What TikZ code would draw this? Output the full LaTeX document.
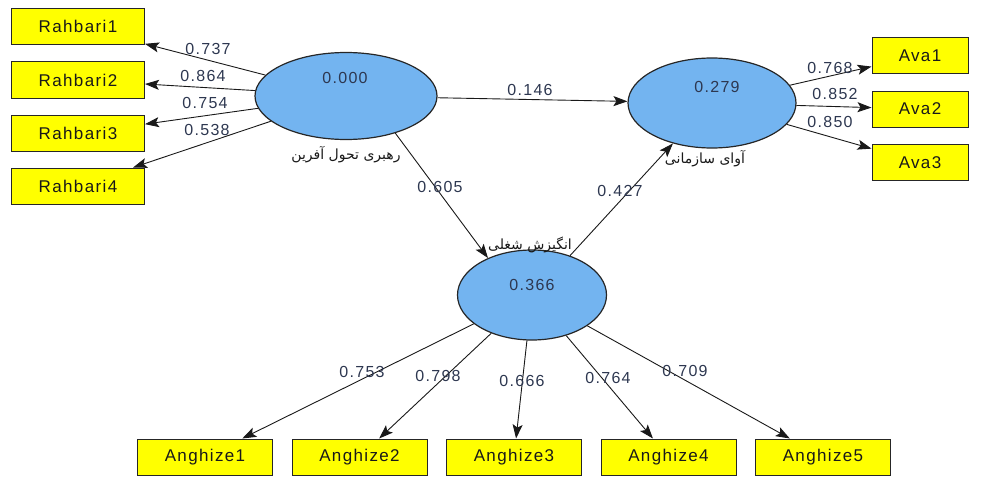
\documentclass[tikz,border=0pt]{standalone}
\usepackage{fontspec}
\setmainfont{Liberation Sans}[LetterSpace=8]
\newfontfamily\arabicfont[Script=Arabic]{DejaVu Sans}
\TeXXeTstate=1
\usetikzlibrary{shapes.geometric,arrows.meta}
\definecolor{boxyellow}{RGB}{255,255,0}
\definecolor{latblue}{RGB}{115,180,240}
\definecolor{numcol}{RGB}{45,55,80}
\begin{document}
\begin{tikzpicture}[x=1pt,y=-1pt,
 ind/.style={draw=black!85, fill=boxyellow, minimum height=36pt, inner sep=0pt, font=\fontsize{17}{20}\selectfont, line width=1pt, text=black!90},
 lat/.style={ellipse, draw=black!85, fill=latblue, inner sep=0pt, line width=1.2pt},
 num/.style={font=\fontsize{16}{19}\selectfont, text=numcol, inner sep=0pt},
 arr/.style={-{Stealth[length=14pt,width=10pt,inset=3pt]}, line width=0.9pt, draw=black!90},
 fa/.style={font=\arabicfont\fontsize{14}{16}\selectfont, inner sep=0pt, text=black!90}]
\useasboundingbox (0,0) rectangle (998,495);
% indicators
\node[ind, minimum width=133pt] (r1) at (78,26.5) {Rahbari1};
\node[ind, minimum width=133pt] (r2) at (78,80) {Rahbari2};
\node[ind, minimum width=133pt] (r3) at (78,133.5) {Rahbari3};
\node[ind, minimum width=133pt] (r4) at (78,186) {Rahbari4};
\node[ind, minimum width=96pt] (a1) at (920,55.5) {Ava1};
\node[ind, minimum width=96pt] (a2) at (920,109) {Ava2};
\node[ind, minimum width=96pt] (a3) at (920,162.5) {Ava3};
\node[ind, minimum width=135pt] (g1) at (205,457) {Anghize1};
\node[ind, minimum width=135pt] (g2) at (359.5,457) {Anghize2};
\node[ind, minimum width=135pt] (g3) at (514,457) {Anghize3};
\node[ind, minimum width=135pt] (g4) at (668.5,457) {Anghize4};
\node[ind, minimum width=135pt] (g5) at (823,457) {Anghize5};
% latent variables
\node[lat, minimum width=182pt, minimum height=87pt] (e1) at (346,96) {};
\node[lat, minimum width=168pt, minimum height=90pt] (e2) at (712,103) {};
\node[lat, minimum width=149pt, minimum height=90pt] (e3) at (532,295) {};
\node[num] (v1) at (345,78) {0.000};
\node[num] (v2) at (717,87) {0.279};
\node[num] (v3) at (532,285) {0.366};
\node[fa] (n1) at (346,155) {\beginR رهبری تحول آفرین\endR};
\node[fa] (n2) at (705,159) {\beginR آوای سازمانی\endR};
\node[fa] (n3) at (530,245) {\beginR انگیزش شغلی\endR};
% arrows
\draw[arr] (e1) -- (r1);
\draw[arr] (e1) -- (r2);
\draw[arr] (e1) -- (r3);
\draw[arr] (e1) -- (r4);
\draw[arr] (e2) -- (a1);
\draw[arr] (e2) -- (a2);
\draw[arr] (e2) -- (a3);
\draw[arr] (e3) -- (g1);
\draw[arr] (e3) -- (g2);
\draw[arr] (e3) -- (g3);
\draw[arr] (e3) -- (g4);
\draw[arr] (e3) -- (g5);
\draw[arr] (e1) -- (e2);
\draw[arr] (e1.-37) -- (e3.140);
\draw[arr] (e3.46) -- (e2.-134);
% coefficients
\node[num] (c1) at (208,49) {0.737};
\node[num] (c2) at (203,76) {0.864};
\node[num] (c3) at (205,103) {0.754};
\node[num] (c4) at (207,130) {0.538};
\node[num] (c5) at (530,90) {0.146};
\node[num] (c6) at (440,187) {0.605};
\node[num] (c7) at (620,191) {0.427};
\node[num] (c8) at (830,68) {0.768};
\node[num] (c9) at (835,94) {0.852};
\node[num] (c10) at (830,122) {0.850};
\node[num] (c11) at (362,372) {0.753};
\node[num] (c12) at (438,376) {0.798};
\node[num] (c13) at (522,381) {0.666};
\node[num] (c14) at (608,378) {0.764};
\node[num] (c15) at (685,371) {0.709};
\end{tikzpicture}
\end{document}
